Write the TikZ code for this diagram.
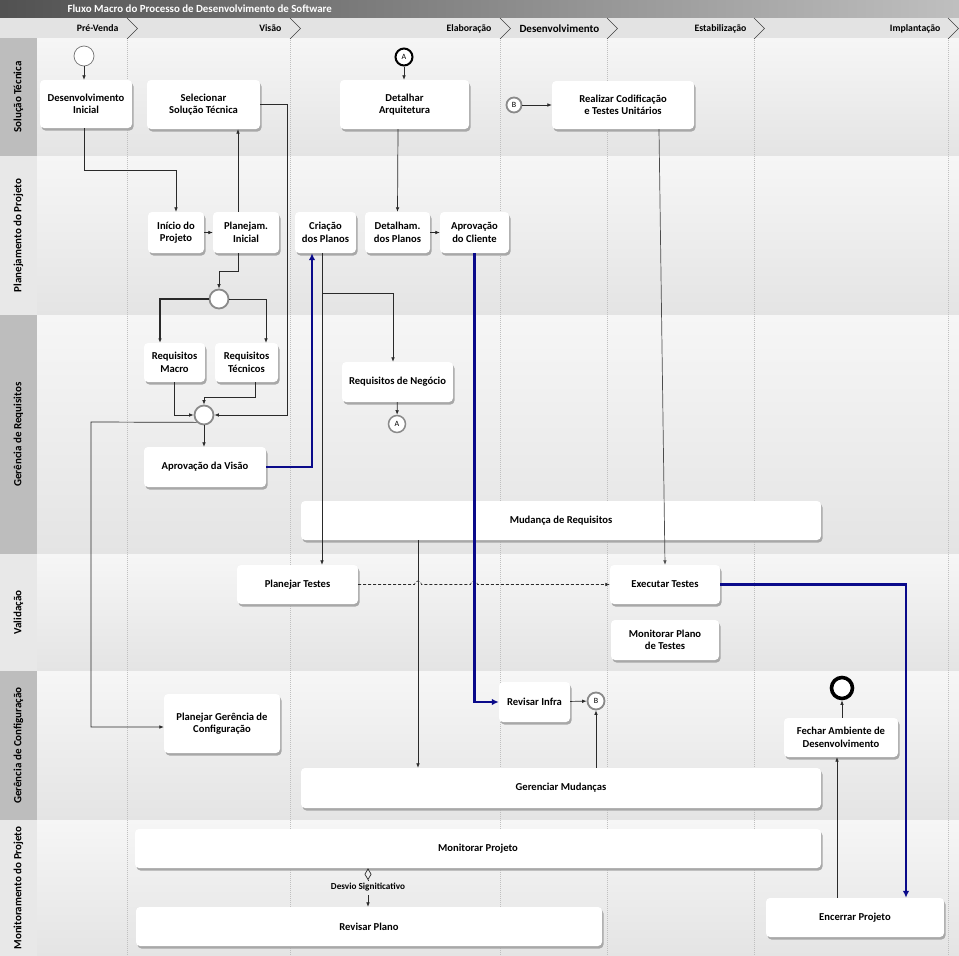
\documentclass[tikz,border=0pt]{standalone}
\usepackage{fontspec}
\setmainfont{Carlito}
\usetikzlibrary{arrows.meta,shadows,calc}
\definecolor{navyline}{HTML}{0A0A8A}
\definecolor{shadowgray}{HTML}{A8A8A8}
\definecolor{linegray}{HTML}{2A2A2A}
\definecolor{darkcol}{HTML}{BDBDBD}
\definecolor{lightcol}{HTML}{E8E8E8}
\definecolor{headrow}{HTML}{E3E3E3}
\definecolor{lanetop}{HTML}{F6F6F6}
\definecolor{lanebot}{HTML}{E4E4E4}
\definecolor{ringgray}{HTML}{8A8A8A}
\begin{document}
\begin{tikzpicture}[x=1pt,y=-1pt,
  box/.style={fill=white, rounded corners=4pt, align=center, inner sep=0pt,
    font=\fontsize{10.6}{12.5}\selectfont\bfseries,
    drop shadow={shadow xshift=1.5pt, shadow yshift=-2.5pt, fill=shadowgray, opacity=1}},
  sz/.style 2 args={minimum width=#1, minimum height=#2},
  ring/.style={circle, fill=white, draw=ringgray, line width=1.8pt, inner sep=0pt,
    font=\fontsize{8}{9}\selectfont},
  arr/.style={draw=linegray, line width=0.7pt, -{Latex[length=4.5pt,width=3.6pt]}},
  bluearr/.style={draw=navyline, line width=2.3pt, -{Latex[length=7pt,width=6.5pt]}},
  lanelabel/.style={rotate=90, font=\fontsize{11}{12}\selectfont\bfseries},
  phase/.style={font=\fontsize{9.8}{11}\selectfont\bfseries},
  chev/.style={draw=black!75, line width=0.6pt},
  sep/.style={draw=black!25, line width=0.5pt, dash pattern=on 1pt off 1pt}
]
\useasboundingbox (0,0) rectangle (959,956);

% ---------- title bar ----------
\shade[left color=black!68, right color=black!25] (0,0) rectangle (959,18);
\node[anchor=west, text=white, font=\fontsize{10.9}{12}\selectfont\bfseries] (title) at (64,9)
  {Fluxo Macro do Processo de Desenvolvimento de Software};

% ---------- header row ----------
\fill[headrow] (0,18) rectangle (959,38);

% ---------- lanes ----------
\shade[top color=lanetop, bottom color=lanebot] (37,38) rectangle (959,156);
\shade[top color=lanetop, bottom color=lanebot] (37,156) rectangle (959,315);
\shade[top color=lanetop, bottom color=lanebot] (37,315) rectangle (959,554);
\shade[top color=lanetop, bottom color=lanebot] (37,554) rectangle (959,671);
\shade[top color=lanetop, bottom color=lanebot] (37,671) rectangle (959,820);
\shade[top color=lanetop, bottom color=lanebot] (37,820) rectangle (959,956);

\fill[darkcol]  (0,38)  rectangle (37,156);
\fill[lightcol] (0,156) rectangle (37,315);
\fill[darkcol]  (0,315) rectangle (37,554);
\fill[lightcol] (0,554) rectangle (37,671);
\fill[darkcol]  (0,671) rectangle (37,820);
\fill[lightcol] (0,820) rectangle (37,956);

\node[lanelabel] (l1) at (18.5,97)   {Solução Técnica};
\node[lanelabel] (l2) at (18.5,235.5) {Planejamento do Projeto};
\node[lanelabel] (l3) at (18.5,434.5) {Gerência de Requisitos};
\node[lanelabel] (l4) at (18.5,612.5) {Validação};
\node[lanelabel] (l5) at (18.5,745.5) {Gerência de Configuração};
\node[lanelabel] (l6) at (18.5,888)   {Monitoramento do Projeto};

% ---------- phase separators ----------
\foreach \xx in {127,290,500,607,754,948} {
  \draw[sep] (\xx,38) -- (\xx,956);
  \draw[chev] (\xx,18) -- (\xx+10.5,28.5) -- (\xx,39);
}
\node[phase, anchor=east] (ph1) at (122,28.5) {Pré-Venda};
\node[phase, anchor=east] (ph2) at (285,28.5) {Visão};
\node[phase, anchor=east] (ph3) at (495,28.5) {Elaboração};
\node[anchor=west, font=\fontsize{11}{12}\selectfont\bfseries] (ph4) at (516,28.5) {Desenvolvimento};
\node[phase, anchor=east] (ph5) at (750,28.5) {Estabilização};
\node[phase, anchor=east] (ph6) at (944,28.5) {Implantação};

% ---------- nodes ----------
\node[box, sz={92pt}{48pt}]  (di)  at (86,104)     {Desenvolvimento\\Inicial};
\node[box, sz={113pt}{49pt}] (sel) at (203.5,104.5) {Selecionar\\Solução Técnica};
\node[box, sz={129pt}{49pt}] (da)  at (404.5,104.5) {Detalhar\\Arquitetura};
\node[box, sz={142pt}{48pt}] (rc)  at (623,105)    {Realizar Codificação\\e Testes Unitários};

\node[box, sz={56pt}{41pt}]  (ip)  at (176,232.5)   {Início do\\Projeto};
\node[box, sz={66pt}{41pt}]  (pi)  at (246,232.5)   {Planejam.\\Inicial};
\node[box, sz={61pt}{41pt}]  (cp)  at (325.5,232.5) {Criação\\dos Planos};
\node[box, sz={65pt}{41pt}]  (dp)  at (397.5,232.5) {Detalham.\\dos Planos};
\node[box, sz={69pt}{41pt}]  (ac)  at (474.5,232.5) {Aprovação\\do Cliente};

\node[box, sz={61pt}{39pt}]  (rm)  at (174.5,362.5) {Requisitos\\Macro};
\node[box, sz={63pt}{39pt}]  (rt)  at (246.5,362.5) {Requisitos\\Técnicos};
\node[box, sz={122pt}{40pt}] (av)  at (205,467)     {Aprovação da Visão};
\node[box, sz={111pt}{40pt}] (rn)  at (397.5,382)   {Requisitos de Negócio};
\node[box, sz={520pt}{39pt}] (mr)  at (561,520.5)   {Mudança de Requisitos};

\node[box, sz={121pt}{39pt}] (pt)  at (297.5,584.5) {Planejar Testes};
\node[box, sz={110pt}{39pt}] (et)  at (665,584.5)   {Executar Testes};
\node[box, sz={108pt}{40pt}] (mpt) at (665,640)     {Monitorar Plano\\de Testes};

\node[box, sz={116pt}{59pt}] (pg)  at (222,723.5)   {Planejar Gerência de\\Configuração};
\node[box, sz={71pt}{40pt}]  (ri)  at (534.5,702)   {Revisar Infra};
\node[box, sz={520pt}{40pt}] (gm)  at (561,788)     {Gerenciar Mudanças};
\node[box, sz={114pt}{39pt}] (fa)  at (841,737.5)   {Fechar Ambiente de\\Desenvolvimento};

\node[box, sz={686pt}{39pt}] (mpj) at (478,848.5)   {Monitorar Projeto};
\node[box, sz={466pt}{39pt}] (rp)  at (369,926.5)   {Revisar Plano};
\node[box, sz={178pt}{39pt}] (ep)  at (855,917.5)   {Encerrar Projeto};

% ---------- circles ----------
\node[ring, draw=black!55, line width=0.7pt, minimum size=20pt] (s0) at (84,56) {};
\node[ring, draw=black, line width=2pt, minimum size=17pt] (a1) at (404,57) {A};
\node[ring, minimum size=15pt] (b1) at (514,105) {B};
\node[ring, minimum size=19pt] (g1) at (219,299) {};
\node[ring, minimum size=19pt] (g2) at (204,415) {};
\node[ring, line width=1.5pt, minimum size=17pt] (a2) at (397,424) {A};
\node[ring, minimum size=17pt] (b2) at (596,701) {B};
\node[circle, draw=black, fill=white, line width=3.6pt, minimum size=21pt, inner sep=0pt] (endc) at (842,688) {};

\node[font=\fontsize{9.2}{10}\selectfont\bfseries] (dv) at (368,887.5) {Desvio Signiticativo};

% ---------- connectors ----------
\draw[arr] (s0) -- (s0 |- di.north);
\draw[arr] (a1) -- (a1 |- da.north);
\draw[arr] (b1) -- (rc.west);
\draw[arr] ([xshift=-2pt]di.south) -- ++(0,42) -| (ip.north);
\draw[arr] (ip) -- (pi);
\draw[arr] ([xshift=-8pt]pi.north) -- ([xshift=34.5pt]sel.south);
\draw[arr] ([xshift=-8pt]pi.south) -- ++(0,18) -| (g1.north);
\draw[arr, line width=1.1pt] (g1.west) -| ([xshift=-14.5pt]rm.north);
\draw[arr] (g1.east) -| ([xshift=19.5pt]rt.north);
\draw[arr] (sel.east) -| (287,415) -- (g2.east);
\draw[arr] ([xshift=-6.5pt]da.south) -- (dp.north);
\draw[arr] (dp) -- (ac);
\draw[arr] ([xshift=-3.5pt]cp.south) -- ([xshift=24.5pt]pt.north);
\coordinate (br) at (322,293);
\draw[arr] (br) -| ([xshift=-4.5pt]rn.north);
\draw[arr] (rn) -- (a2);
\draw[arr] (rm.south) |- (g2.west);
\draw[arr] ([xshift=8.5pt]rt.south) -- ++(0,15) -| (g2.north);
\draw[arr] (g2) -- (g2 |- av.north);
\draw[arr] (g2.south west) -- (91,422) |- ([yshift=-3.5pt]pg.west);
\draw[arr] ([xshift=-143pt]mr.south) -- ([xshift=-143pt]gm.north);
\draw[arr, draw=black!70] ([xshift=36pt]rc.south) -- (et.north);
\draw[arr, dash pattern=on 3pt off 2pt] (pt.east) -- (414.5,584.5)
   arc[start angle=180, end angle=360, radius=3.5] -- (470.5,584.5)
   arc[start angle=180, end angle=360, radius=3.5] -- (et.west);
\draw[arr] (ri) -- (b2);
\draw[arr] ([xshift=35pt]gm.north) -- (b2.south);
\draw[arr] ([xshift=-18pt]ep.north) -- ([xshift=-4pt]fa.south);
\draw[arr] ([xshift=1pt]fa.north) -- (endc.south);
\draw[draw=linegray, line width=0.7pt, {Diamond[open,length=12pt,width=7pt]}-] ([xshift=-110pt]mpj.south) -- (dv.north);
\draw[arr] (dv.south) -- ([xshift=-1pt]rp.north);

% blue flows
\draw[bluearr] (av.east) -| ([xshift=-13.5pt]cp.south);
\draw[bluearr] (ac.south) |- (ri.west);
\draw[bluearr] (et.east) -| ([xshift=51pt]ep.north);
\end{tikzpicture}
\end{document}
